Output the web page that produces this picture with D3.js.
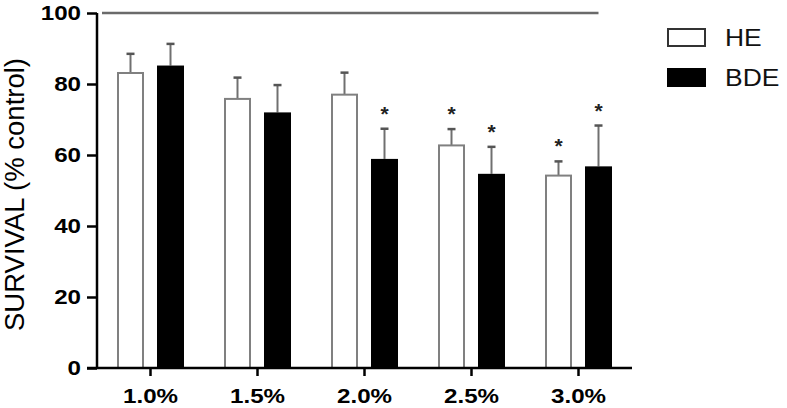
<!DOCTYPE html>
<html>
<head>
<meta charset="utf-8">
<script src="https://cdn.jsdelivr.net/npm/d3@7"></script>
<style>
  body { margin: 0; background: #fff; }
  text { font-family: "Liberation Sans", Arial, sans-serif; }
</style>
</head>
<body>
<div class="root"></div>
<script>
const categories = ['1.0%', '1.5%', '2.0%', '2.5%', '3.0%'];
const heValues = [83.1, 75.8, 77.0, 62.7, 54.2];
const heErrors = [5.4, 6.0, 6.2, 4.6, 4.0];
const heStars = [false, false, false, true, true];
const bdeValues = [85.2, 72.0, 58.9, 54.7, 56.8];
const bdeErrors = [6.1, 7.7, 8.5, 7.6, 11.5];
const bdeStars = [false, false, true, true, true];
const yTicks = [0, 20, 40, 60, 80, 100];
const controlLevel = 100;

const svgWidth = 787;
const svgHeight = 408;
const sx = 1.15; // the source text is a bit wider than it is tall

const svg = d3.select('.root')
  .append('svg')
  .attr('width', svgWidth)
  .attr('height', svgHeight);

const x = d3.scaleBand().domain(categories).range([97, 632]);
const y = d3.scaleLinear().domain([0, 100]).range([368, 13]);
const barW = 27;
const offset = 20;

const series = [
  { id: 'HE', values: heValues, errors: heErrors, stars: heStars, dx: -offset, fill: '#fff', stroke: '#808080' },
  { id: 'BDE', values: bdeValues, errors: bdeErrors, stars: bdeStars, dx: offset, fill: '#000', stroke: '#000' }
];

const cx = (c, s) => x(c) + x.bandwidth() / 2 + s.dx;

// control line at 100%
svg.append('line')
  .attr('x1', 102).attr('x2', cx('3.0%', series[1]))
  .attr('y1', y(controlLevel)).attr('y2', y(controlLevel))
  .attr('stroke', '#6a6a6a').attr('stroke-width', 2.5);

series.forEach(s => {
  const g = svg.append('g').attr('class', 'series');
  const rows = categories.map((c, i) => ({ c, v: s.values[i], e: s.errors[i], star: s.stars[i] }));

  // error bars (upper half)
  g.selectAll('.err').data(rows).enter().append('line')
    .attr('x1', d => cx(d.c, s)).attr('x2', d => cx(d.c, s))
    .attr('y1', d => y(d.v)).attr('y2', d => y(d.v + d.e))
    .attr('stroke', '#707070').attr('stroke-width', 2);
  g.selectAll('.cap').data(rows).enter().append('line')
    .attr('x1', d => cx(d.c, s) - 4).attr('x2', d => cx(d.c, s) + 4)
    .attr('y1', d => y(d.v + d.e)).attr('y2', d => y(d.v + d.e))
    .attr('stroke', '#555').attr('stroke-width', 2.5);

  g.selectAll('rect').data(rows).enter().append('rect')
    .attr('x', d => cx(d.c, s) - barW / 2 + (s.id === 'HE' ? 1 : 0))
    .attr('width', barW - (s.id === 'HE' ? 2 : 0))
    .attr('y', d => y(d.v))
    .attr('height', d => y(0) - y(d.v))
    .attr('fill', s.fill)
    .attr('stroke', s.stroke)
    .attr('stroke-width', s.id === 'HE' ? 2 : 0);

  g.selectAll('.star').data(rows.filter(d => d.star)).enter().append('text')
    .attr('x', d => cx(d.c, s))
    .attr('y', d => y(d.v + d.e) - 8)
    .attr('text-anchor', 'middle')
    .attr('font-size', 21)
    .attr('font-weight', 'bold')
    .attr('fill', '#222')
    .text('*');
});

// axes
const yAxis = svg.append('g')
  .attr('transform', 'translate(97,0)')
  .call(d3.axisLeft(y).tickValues(yTicks).tickSize(10).tickPadding(6));
const xAxis = svg.append('g')
  .attr('transform', 'translate(0,368)')
  .call(d3.axisBottom(x).tickSize(8).tickPadding(12).tickSizeOuter(0));

[yAxis, xAxis].forEach(a => {
  a.select('.domain').attr('stroke', '#000').attr('stroke-width', 2.5);
  a.selectAll('.tick line').attr('stroke', '#000').attr('stroke-width', 2.5);
  a.selectAll('.tick text')
    .attr('fill', '#000')
    .attr('font-size', 21)
    .attr('font-weight', 'bold')
    .attr('font-family', '"Liberation Sans", Arial, sans-serif')
    .attr('x', function() { return (+d3.select(this).attr('x') || 0) / sx; })
    .attr('transform', `scale(${sx},1)`);
});
yAxis.select('.domain').attr('d', `M0,${y(100)}V${y(0)}`);
xAxis.select('.domain').attr('d', `M87,0H632`);

svg.append('text')
  .attr('transform', `translate(24,${(y(0) + y(100)) / 2 + 4}) rotate(-90)`)
  .attr('text-anchor', 'middle')
  .attr('font-size', 27.5)
  .attr('fill', '#000')
  .text('SURVIVAL (% control)');

// legend
const legend = svg.append('g').selectAll('g').data(series).enter().append('g')
  .attr('transform', (d, i) => `translate(667,${28 + i * 40})`);
legend.append('rect')
  .attr('x', 1).attr('y', 1).attr('width', 37).attr('height', 17)
  .attr('fill', d => d.fill).attr('stroke', d => d.id === 'HE' ? '#333' : '#000')
  .attr('stroke-width', 2);
legend.append('text')
  .attr('transform', `translate(58,18) scale(${sx},1)`)
  .attr('font-size', 23)
  .attr('fill', '#111')
  .text(d => d.id);
</script>
</body>
</html>
